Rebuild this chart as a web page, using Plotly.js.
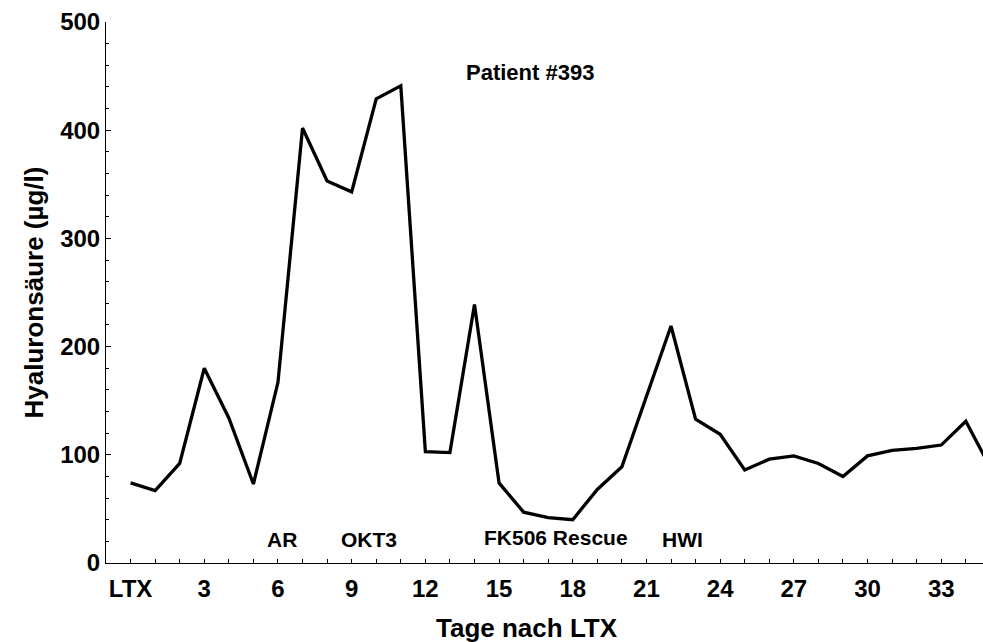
<!DOCTYPE html>
<html>
<head>
<meta charset="utf-8">
<script src="https://cdn.plot.ly/plotly-3.0.1.min.js"></script>
<style>html,body{margin:0;padding:0;background:#fff;}#chart{width:983px;height:642px;}</style>
</head>
<body>
<div id="chart"></div>
<script>
// Days after liver transplantation (LTX = day 0)
const days = [0,1,2,3,4,5,6,7,8,9,10,11,12,13,14,15,16,17,18,19,20,21,22,23,24,25,26,27,28,29,30,31,32,33,34,35];
// Hyaluronic acid (µg/l)
const hyaluron = [74,67,92,180,134,73,167,402,353,343,429,441,103,102,239,74,47,42,40,68,89,154,219,133,119,86,96,99,92,80,99,104,106,109,131,88];
const xTickVals = [0,3,6,9,12,15,18,21,24,27,30,33];
const xTickText = ["LTX","3","6","9","12","15","18","21","24","27","30","33"];
const yTickVals = [0,100,200,300,400,500];
const eventLabels = ["AR","OKT3","FK506 Rescue","HWI"];
const eventX = [6.16,9.7,17.3,22.47];
const eventY = [22,22,24,22];
const chartTitle = "Patient #393";
const xTitle = "Tage nach LTX";
const yTitle = "Hyaluronsäure (µg/l)";

const font = {family: "Liberation Sans, Arial, sans-serif", color: "#000", weight: "bold"};

const annotations = eventLabels.map((t,i)=>({
  text: t, x: eventX[i], y: eventY[i], xref: "x", yref: "y",
  showarrow: false, font: Object.assign({}, font, {size: 21})
}));
annotations.push({
  text: chartTitle, x: 16.25, y: 453, xref: "x", yref: "y",
  showarrow: false, font: Object.assign({}, font, {size: 22})
});
// x-axis title, placed slightly left of the plot centre as in the original
annotations.push({
  text: xTitle, xref: "paper", yref: "paper", x: 0.48, y: -0.121,
  xanchor: "center", yanchor: "middle", showarrow: false,
  font: Object.assign({}, font, {size: 26})
});

Plotly.newPlot("chart", [{
  x: days, y: hyaluron, type: "scatter", mode: "lines",
  line: {color: "#000", width: 3.3}, cliponaxis: true, hoverinfo: "skip"
}], {
  width: 983, height: 642,
  margin: {l: 106, r: 0, t: 22, b: 79},
  paper_bgcolor: "#fff", plot_bgcolor: "#fff",
  showlegend: false,
  xaxis: {
    range: [-1, 34.7], showgrid: false, zeroline: false,
    showline: true, linecolor: "#000", linewidth: 1,
    tickmode: "array", tickvals: xTickVals, ticktext: xTickText,
    ticks: "inside", ticklen: 4, tickcolor: "#000",
    minor: {dtick: 1, ticks: "inside", ticklen: 4, tickcolor: "#000"},
    tickfont: Object.assign({}, font, {size: 24}),
    ticklabelstandoff: 4
  },
  yaxis: {
    range: [0, 500], showgrid: false, zeroline: false,
    showline: true, linecolor: "#000", linewidth: 1,
    tickmode: "array", tickvals: yTickVals,
    ticks: "inside", ticklen: 5, tickcolor: "#000",
    minor: {dtick: 20, ticks: "inside", ticklen: 3, tickcolor: "#000"},
    tickfont: Object.assign({}, font, {size: 24}),
    title: {text: yTitle, font: Object.assign({}, font, {size: 26}), standoff: 9}
  },
  annotations: annotations
}, {displayModeBar: false, staticPlot: true});
</script>
</body>
</html>
